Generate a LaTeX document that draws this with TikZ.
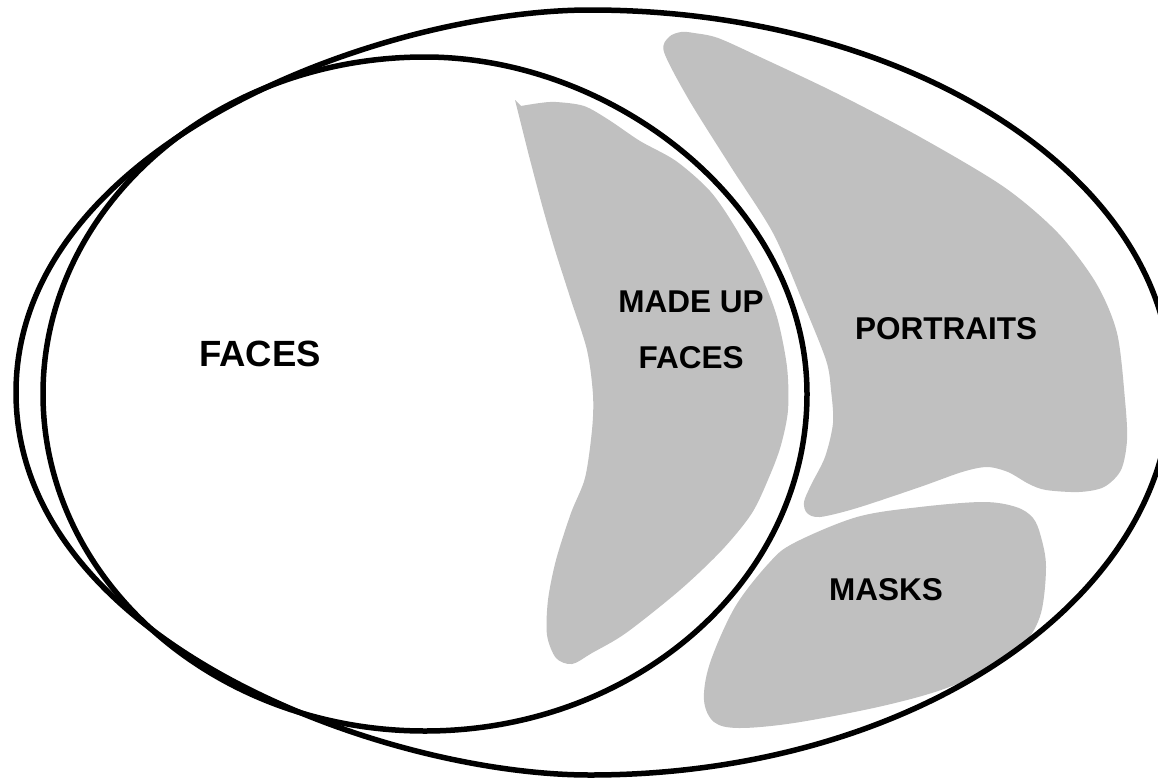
\documentclass[tikz,border=0pt]{standalone}
\usepackage{fontspec}
\setmainfont{Liberation Sans}
\begin{document}
\begin{tikzpicture}[x=1pt,y=-1pt,
  setline/.style={line width=5.5pt, draw=black},
  region/.style={fill=regiongray},
  bigtxt/.style={font=\bfseries\fontsize{36.5}{40}\selectfont, inner sep=0pt},
  smalltxt/.style={font=\bfseries\fontsize{31.5}{36}\selectfont, inner sep=0pt, align=center}]
\definecolor{regiongray}{HTML}{C0C0C0}
\useasboundingbox (0,0) rectangle (1158,779);
\fill[white] (0,0) rectangle (1158,779);
\clip (0,0) rectangle (1158,779);

% made up faces region
\fill[region] (515,100) -- plot[smooth, tension=0.5] coordinates {(521,106) (540,103) (556,102) (584,106) (609,120) (640,141) (676,161) (710,191) (735,227) (760,273) (777,317) (787,367) (788,410) (781,445) (770,475) (752,513) (722,550) (680,590) (626,633) (592,653) (572,664) (556,658) (547,635) (548,600) (556,560) (571,513) (585,478) (592,430) (593,395) (587,350) (571,300) (555,250) (542,205) (528,152)} -- cycle;

% portraits region
\fill[region] plot[smooth cycle, tension=0.5] coordinates {(664,52) (669,37) (681,32) (694,33) (718,38) (760,57) (836,93) (920,137) (1004,187) (1058,233) (1096,283) (1117,333) (1125,400) (1127,440) (1121,470) (1104,487) (1079,492) (1046,490) (1029,484) (1008,472) (987,467) (962,472) (920,487) (857,508) (820,517) (807,513) (804,502) (811,485) (825,457) (833,423) (831,390) (826,360) (802,300) (773,233) (731,167) (689,100)};

% masks region
\fill[region] plot[smooth cycle, tension=0.55] coordinates {(794,543) (857,517) (920,507) (983,502) (1016,507) (1033,518) (1041,537) (1046,567) (1041,613) (1025,643) (995,667) (941,690) (878,707) (794,723) (739,728) (714,722) (704,700) (710,663) (735,607) (769,563)};

% outer set
\draw[setline] (16,392.5) .. controls (16,143.9) and (383.4,10) .. (590,10)
  .. controls (910.9,10) and (1171,177.9) .. (1171,385)
  .. controls (1171,600.4) and (910.9,775) .. (590,775)
  .. controls (383.4,775) and (16,641.1) .. cycle;

% inner set
\draw[setline] (43,394) .. controls (43,207.9) and (214,57) .. (425,57)
  .. controls (616,57) and (807,207.9) .. (807,394)
  .. controls (807,580.1) and (636,731) .. (425,731)
  .. controls (214,731) and (43,580.1) .. cycle;

\node[bigtxt] (faces) at (260,354) {FACES};
\node[smalltxt] (madeup) at (691,302) {MADE UP};
\node[smalltxt] (madefaces) at (691,358) {FACES};
\node[smalltxt] (portraits) at (946,329) {PORTRAITS};
\node[smalltxt] (masks) at (886,590) {MASKS};
\end{tikzpicture}
\end{document}
